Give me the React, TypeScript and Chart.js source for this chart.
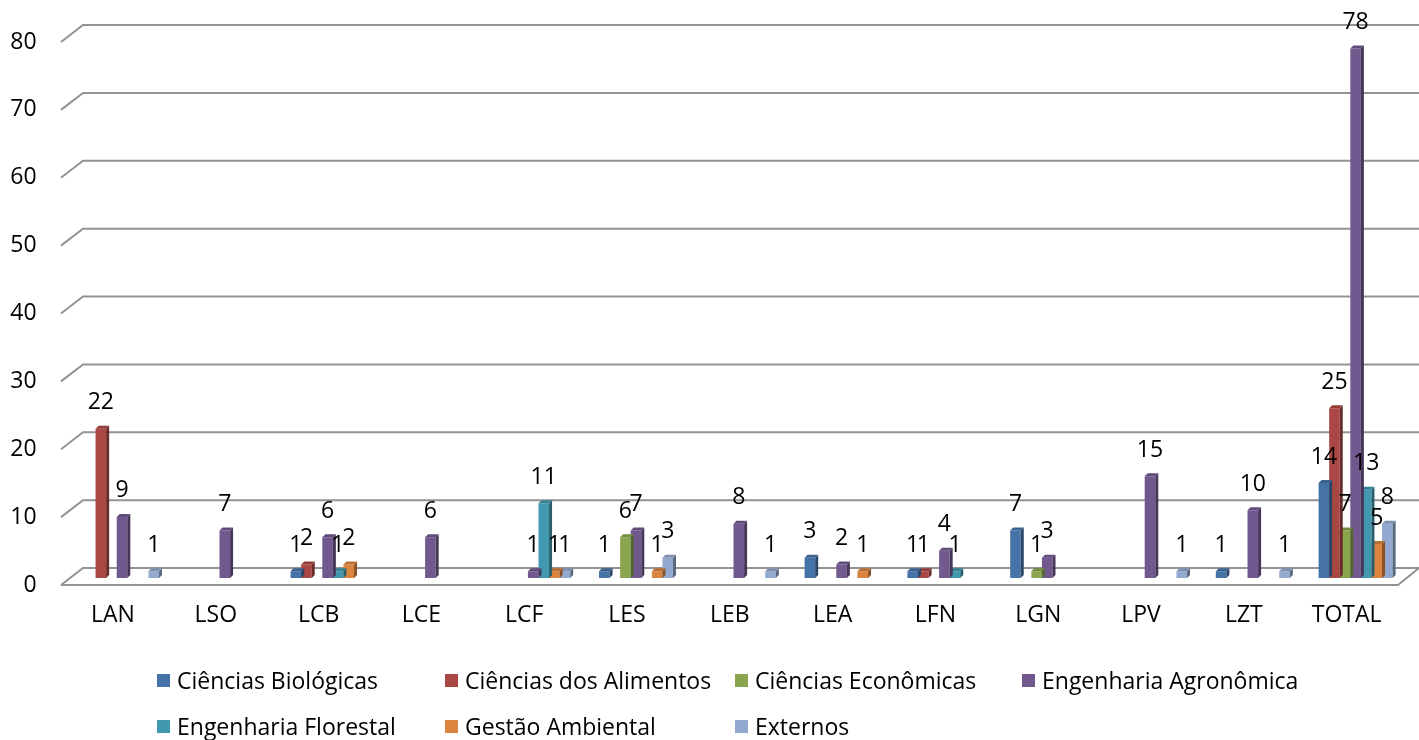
import React, { useEffect, useRef } from "react";
import { Chart, registerables } from "chart.js";

Chart.register(...registerables);

const categories = ["LAN", "LSO", "LCB", "LCE", "LCF", "LES", "LEB", "LEA", "LFN", "LGN", "LPV", "LZT", "TOTAL"];

const seriesNames = [
  "Ciências Biológicas",
  "Ciências dos Alimentos",
  "Ciências Econômicas",
  "Engenharia Agronômica",
  "Engenharia Florestal",
  "Gestão Ambiental",
  "Externos",
];

const cienciasBiologicas = [0, 0, 1, 0, 0, 1, 0, 3, 1, 7, 0, 1, 14];
const cienciasAlimentos = [22, 0, 2, 0, 0, 0, 0, 0, 1, 0, 0, 0, 25];
const cienciasEconomicas = [0, 0, 0, 0, 0, 6, 0, 0, 0, 1, 0, 0, 7];
const engenhariaAgronomica = [9, 7, 6, 6, 1, 7, 8, 2, 4, 3, 15, 10, 78];
const engenhariaFlorestal = [0, 0, 1, 0, 11, 0, 0, 0, 1, 0, 0, 0, 13];
const gestaoAmbiental = [0, 0, 2, 0, 1, 1, 0, 1, 0, 0, 0, 0, 5];
const externos = [1, 0, 0, 0, 1, 3, 1, 0, 0, 0, 1, 1, 8];

const seriesValues = [
  cienciasBiologicas,
  cienciasAlimentos,
  cienciasEconomicas,
  engenhariaAgronomica,
  engenhariaFlorestal,
  gestaoAmbiental,
  externos,
];

const seriesColors = ["#4572A7", "#AA4643", "#89A54E", "#71588F", "#4198AF", "#DB843D", "#93A9CF"];

const Y_MIN = 0;
const Y_MAX = 80;
const Y_STEP = 10;

const FONT_FAMILY = '"Open Sans", sans-serif';
const FONT_SIZE = 23;
const GRID_COLOR = "#939393";

const LEGEND_COLS = [157, 445, 735, 1022];
const LEGEND_ROWS = [680, 726];

function shade(hex: string, f: number): string {
  const n = parseInt(hex.slice(1), 16);
  const r = Math.round(((n >> 16) & 255) * f);
  const g = Math.round(((n >> 8) & 255) * f);
  const b = Math.round((n & 255) * f);
  return `rgb(${r},${g},${b})`;
}

const grid3d = {
  id: "grid3d",
  beforeDatasetsDraw(chart: any) {
    const { ctx, chartArea } = chart;
    const y = chart.scales.y;
    const fx = chartArea.left - 9.6;
    const bx = fx + 22;
    ctx.save();
    ctx.strokeStyle = GRID_COLOR;
    ctx.lineWidth = 2;
    y.ticks.forEach((t: any) => {
      const py = y.getPixelForValue(t.value);
      ctx.beginPath();
      ctx.moveTo(fx, py + 7);
      ctx.lineTo(bx, py - 10);
      ctx.lineTo(chart.width, py - 10);
      ctx.stroke();
    });
    const p0 = y.getPixelForValue(0);
    const rx = chartArea.right - 9;
    ctx.beginPath();
    ctx.moveTo(fx, p0 + 7);
    ctx.lineTo(rx, p0 + 7);
    ctx.lineTo(rx + 21, p0 - 10);
    ctx.stroke();
    ctx.restore();
  },
};

const bar3d = {
  id: "bar3d",
  afterDatasetDraw(chart: any, args: any) {
    const { ctx } = chart;
    const meta = args.meta;
    const ds = chart.data.datasets[args.index];
    const color = seriesColors[args.index];
    const d = 3;
    ctx.save();
    meta.data.forEach((bar: any, i: number) => {
      const v = ds.data[i];
      if (!v) return;
      const { x, y, base, width } = bar.getProps(["x", "y", "base", "width"], true);
      const l = x - width / 2;
      const r = x + width / 2;
      ctx.fillStyle = shade(color, 0.62);
      ctx.beginPath();
      ctx.moveTo(r, y);
      ctx.lineTo(r + d, y - d);
      ctx.lineTo(r + d, base - d);
      ctx.lineTo(r, base);
      ctx.closePath();
      ctx.fill();
      ctx.fillStyle = shade(color, 0.85);
      ctx.beginPath();
      ctx.moveTo(l, y);
      ctx.lineTo(l + d, y - d);
      ctx.lineTo(r + d, y - d);
      ctx.lineTo(r, y);
      ctx.closePath();
      ctx.fill();
    });
    ctx.restore();
  },
};

const valueLabels = {
  id: "valueLabels",
  afterDatasetsDraw(chart: any) {
    const { ctx } = chart;
    ctx.save();
    ctx.font = `${FONT_SIZE}px ${FONT_FAMILY}`;
    ctx.fillStyle = "#000";
    ctx.textAlign = "center";
    ctx.textBaseline = "middle";
    chart.data.datasets.forEach((ds: any, di: number) => {
      const meta = chart.getDatasetMeta(di);
      meta.data.forEach((bar: any, i: number) => {
        const v = ds.data[i];
        if (!v) return;
        const { x, y } = bar.getProps(["x", "y"], true);
        ctx.fillText(String(v), x, y - 26);
      });
    });
    ctx.restore();
  },
};

export default function App() {
  const ref = useRef<HTMLCanvasElement>(null);

  useEffect(() => {
    document.body.style.margin = "0";
    const canvas = ref.current!;
    const chart = new Chart(canvas, {
      type: "bar",
      data: {
        labels: categories,
        datasets: seriesNames.map((name, i) => ({
          label: name,
          data: seriesValues[i],
          backgroundColor: seriesColors[i],
          borderWidth: 0,
          barPercentage: 1,
          categoryPercentage: 0.72,
        })),
      },
      options: {
        responsive: false,
        animation: false,
        devicePixelRatio: 1,
        layout: { padding: { top: 35, right: 12, bottom: 102, left: 0 } },
        plugins: {
          legend: { display: false },
          tooltip: { enabled: false },
        },
        scales: {
          x: {
            grid: { display: false, drawTicks: false },
            border: { display: false },
            ticks: {
              color: "#000",
              font: { family: FONT_FAMILY, size: FONT_SIZE },
              labelOffset: -9,
              padding: 24,
              maxRotation: 0,
              autoSkip: false,
            },
            afterFit: (s: any) => {
              s.height = 60;
              s.paddingLeft = 0;
              s.paddingRight = 0;
            },
          },
          y: {
            min: Y_MIN,
            max: Y_MAX,
            grid: { display: false, drawTicks: false },
            border: { display: false },
            ticks: {
              stepSize: Y_STEP,
              color: "#000",
              font: { family: FONT_FAMILY, size: FONT_SIZE },
              labelOffset: 7,
              padding: 34,
            },
            afterFit: (s: any) => {
              s.width = 70.6;
              s.paddingTop = 0;
              s.paddingBottom = 0;
            },
          },
        },
      },
      plugins: [grid3d, bar3d, valueLabels],
    });
    return () => chart.destroy();
  }, []);

  return (
    <div style={{ position: "relative", width: 1419, height: 740, overflow: "hidden", fontFamily: FONT_FAMILY }}>
      <canvas ref={ref} width={1419} height={740} style={{ display: "block" }} />
      {seriesNames.map((name, i) => {
        const row = i < 4 ? 0 : 1;
        const col = i < 4 ? i : i - 4;
        return (
          <div
            key={name}
            style={{
              position: "absolute",
              left: LEGEND_COLS[col],
              top: LEGEND_ROWS[row] - 16,
              height: 32,
              display: "flex",
              alignItems: "center",
              fontSize: FONT_SIZE,
              color: "#000",
              whiteSpace: "nowrap",
            }}
          >
            <span style={{ display: "inline-block", width: 13, height: 13, background: seriesColors[i], marginRight: 7 }} />
            <span>{name}</span>
          </div>
        );
      })}
    </div>
  );
}
